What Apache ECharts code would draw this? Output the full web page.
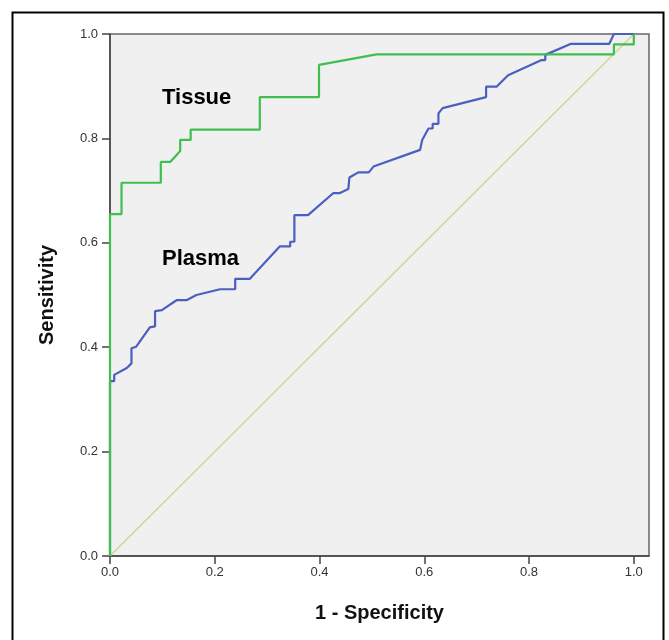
<!DOCTYPE html>
<html>
<head>
<meta charset="utf-8">
<script src="https://cdn.jsdelivr.net/npm/echarts@6/dist/echarts.min.js"></script>
<style>
  html, body { margin: 0; padding: 0; background: #fff; }
  #main { width: 669px; height: 640px; }
</style>
</head>
<body>
<div id="main"></div>
<script>
  // ROC curve points (1 - specificity, sensitivity)
  var tissueFpr = [0, 0, 0.022, 0.022, 0.097, 0.097, 0.115, 0.134, 0.134, 0.154, 0.154, 0.286, 0.286, 0.399, 0.399, 0.509, 0.962, 0.962, 1.0, 1.0];
  var tissueTpr = [0, 0.655, 0.655, 0.715, 0.715, 0.755, 0.755, 0.776, 0.797, 0.797, 0.817, 0.817, 0.879, 0.879, 0.941, 0.961, 0.961, 0.980, 0.980, 1.0];

  var plasmaFpr = [0, 0, 0.008, 0.008, 0.032, 0.041, 0.041, 0.050, 0.076, 0.086, 0.086, 0.099, 0.127, 0.146, 0.165, 0.210, 0.239, 0.239, 0.267, 0.324, 0.344, 0.344, 0.352, 0.352, 0.378, 0.426, 0.438, 0.455, 0.457, 0.474, 0.494, 0.503, 0.592, 0.596, 0.608, 0.616, 0.616, 0.627, 0.627, 0.635, 0.718, 0.718, 0.738, 0.760, 0.824, 0.831, 0.831, 0.879, 0.953, 0.962, 1.0];
  var plasmaTpr = [0, 0.335, 0.335, 0.347, 0.360, 0.369, 0.398, 0.401, 0.438, 0.440, 0.469, 0.471, 0.490, 0.490, 0.500, 0.511, 0.511, 0.531, 0.531, 0.593, 0.593, 0.602, 0.602, 0.653, 0.653, 0.695, 0.695, 0.703, 0.725, 0.735, 0.735, 0.746, 0.778, 0.797, 0.819, 0.819, 0.828, 0.828, 0.848, 0.858, 0.879, 0.899, 0.899, 0.921, 0.950, 0.950, 0.960, 0.981, 0.981, 1.0, 1.0];

  var refLine = [[0, 0], [1, 1]];
  var tickValues = [0, 0.2, 0.4, 0.6, 0.8, 1.0];

  function pairs(xs, ys) {
    var out = [];
    for (var i = 0; i < xs.length; i++) out.push([xs[i], ys[i]]);
    return out;
  }

  var font = 'Liberation Sans, Arial, sans-serif';

  var options = {
    animation: false,
    backgroundColor: '#fff',
    grid: {
      left: 110,
      top: 34,
      right: 20,
      bottom: 84,
      show: true,
      backgroundColor: '#f0f0f0',
      borderColor: '#666',
      borderWidth: 1.5
    },
    xAxis: {
      type: 'value',
      min: 0,
      max: 1.029,
      name: '1 - Specificity',
      nameLocation: 'middle',
      nameGap: 47,
      nameTextStyle: { fontFamily: font, fontSize: 20, fontWeight: 'bold', color: '#111' },
      splitLine: { show: false },
      axisLine: { show: true, lineStyle: { color: '#444', width: 1.5 } },
      axisTick: { show: true, length: 8, lineStyle: { color: '#444', width: 1.5 }, customValues: tickValues },
      axisLabel: {
        customValues: tickValues,
        fontFamily: font, fontSize: 13, color: '#333', margin: 10,
        formatter: function (v) { return v.toFixed(1); }
      }
    },
    yAxis: {
      type: 'value',
      min: 0,
      max: 1,
      interval: 0.2,
      name: 'Sensitivity',
      nameLocation: 'middle',
      nameGap: 53,
      nameTextStyle: { fontFamily: font, fontSize: 20, fontWeight: 'bold', color: '#111' },
      splitLine: { show: false },
      axisLine: { show: true, lineStyle: { color: '#444', width: 1.5 } },
      axisTick: { show: true, length: 8, lineStyle: { color: '#444', width: 1.5 } },
      axisLabel: {
        fontFamily: font, fontSize: 13, color: '#333', margin: 12,
        formatter: function (v) { return v.toFixed(1); }
      }
    },
    graphic: [
      { type: 'rect', left: 10, top: 10, shape: { width: 651, height: 640 }, style: { fill: 'none', stroke: '#000', lineWidth: 2 }, z: 100 },
      { type: 'text', left: 162, top: 87, style: { text: 'Tissue', font: 'bold 22px ' + font, fill: '#000' }, z: 100 },
      { type: 'text', left: 162, top: 248, style: { text: 'Plasma', font: 'bold 22px ' + font, fill: '#000' }, z: 100 }
    ],
    series: [
      {
        name: 'Reference',
        type: 'line',
        data: refLine,
        symbol: 'none',
        lineStyle: { color: '#d0d596', width: 1.5 }
      },
      {
        name: 'Plasma',
        type: 'line',
        data: pairs(plasmaFpr, plasmaTpr),
        symbol: 'none',
        lineStyle: { color: '#4a5fc0', width: 2.2 }
      },
      {
        name: 'Tissue',
        type: 'line',
        data: pairs(tissueFpr, tissueTpr),
        symbol: 'none',
        lineStyle: { color: '#3fbf4f', width: 2.2 }
      }
    ]
  };

  var myChart = echarts.init(document.getElementById('main'));
  myChart.setOption(options);
</script>
</body>
</html>
